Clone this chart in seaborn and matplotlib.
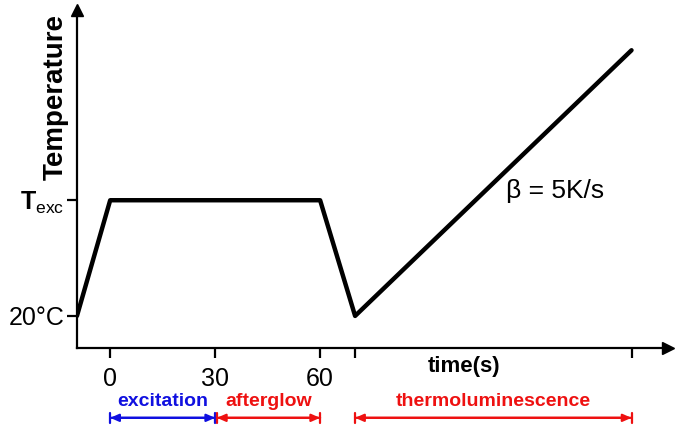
import matplotlib
matplotlib.use("Agg")
import matplotlib.pyplot as plt
import seaborn as sns
import pandas as pd

# ---- data (read from the schematic) ----
time_s = [-9.5, 0, 60, 70, 149]
temperature = [20, 192, 192, 20, 415]
x_ticks = [0, 30, 60, 70, 149]
x_tick_labels = ["0", "30", "60", "", ""]
y_ticks = [20, 192]
y_tick_labels = ["20°C", r"$\mathbf{T}_{\mathrm{exc}}$"]
phase_names = ["excitation", "afterglow", "thermoluminescence"]
phase_start = [0, 30.5, 70]
phase_end = [30, 60, 149]
phase_colors = ["#1010e0", "#ee1111", "#ee1111"]

sns.set_style("white")
plt.rcParams["font.family"] = ["Liberation Sans", "DejaVu Sans"]
plt.rcParams["mathtext.fontset"] = "custom"
plt.rcParams["mathtext.rm"] = "Liberation Sans"
plt.rcParams["mathtext.bf"] = "Liberation Sans:bold"
plt.rcParams["text.color"] = "black"
plt.rcParams["xtick.color"] = "black"
plt.rcParams["ytick.color"] = "black"
plt.rcParams["axes.labelcolor"] = "black"

fig = plt.figure(figsize=(6.75, 4.3), dpi=100)
ax = fig.add_axes([0.114, 0.191, 0.876, 0.786])

df = pd.DataFrame({"time": time_s, "T": temperature})
sns.lineplot(data=df, x="time", y="T", ax=ax, color="black", lw=3.2,
             sort=False, estimator=None)

ax.set_xlim(-9.5, 159.5)
ax.set_ylim(-27.5, 475)
for s in ["top", "right"]:
    ax.spines[s].set_visible(False)
for s in ["left", "bottom"]:
    ax.spines[s].set_linewidth(1.6)
    ax.spines[s].set_color("black")

ax.set_xticks(x_ticks)
ax.set_xticklabels(x_tick_labels, fontsize=18)
ax.set_yticks(y_ticks)
ax.set_yticklabels(y_tick_labels, fontsize=18)
ax.tick_params(axis="both", direction="out", length=7, width=1.6, color="black",
               bottom=True, left=True)
ax.tick_params(axis="x", pad=7)
ax.tick_params(axis="y", pad=2)
ax.set_xlabel("")
ax.set_ylabel("Temperature", fontsize=20, fontweight="bold")
ax.yaxis.set_label_coords(-0.014, 0.743)

# axis arrow heads
ax.plot(1, 0, ">k", markersize=9, transform=ax.transAxes, clip_on=False)
ax.plot(0, 1, "^k", markersize=9, transform=ax.transAxes, clip_on=False)

ax.text(101, -0.025, "time(s)", transform=ax.get_xaxis_transform(),
        ha="center", va="top", fontsize=16, fontweight="bold")
ax.text(113, 205, "β = 5K/s", fontsize=19, ha="left", va="center")

tr = ax.get_xaxis_transform()
for name, x0, x1, c in zip(phase_names, phase_start, phase_end, phase_colors):
    ax.annotate("", xy=(x1, -0.207), xytext=(x0, -0.207), xycoords=tr, textcoords=tr,
                arrowprops=dict(arrowstyle="|-|,widthA=0.35,widthB=0.35", color=c, lw=1.6,
                                shrinkA=0, shrinkB=0), annotation_clip=False)
    ax.annotate("", xy=(x1, -0.207), xytext=(x0, -0.207), xycoords=tr, textcoords=tr,
                arrowprops=dict(arrowstyle="<|-|>,head_length=0.5,head_width=0.22", color=c, lw=1.6,
                                shrinkA=0, shrinkB=0), annotation_clip=False)
    ax.text((x0 + x1) / 2, -0.158, name, transform=tr, ha="center", va="center",
            color=c, fontsize=14, fontweight="bold", clip_on=False)

fig.savefig("out.png", dpi=100)
